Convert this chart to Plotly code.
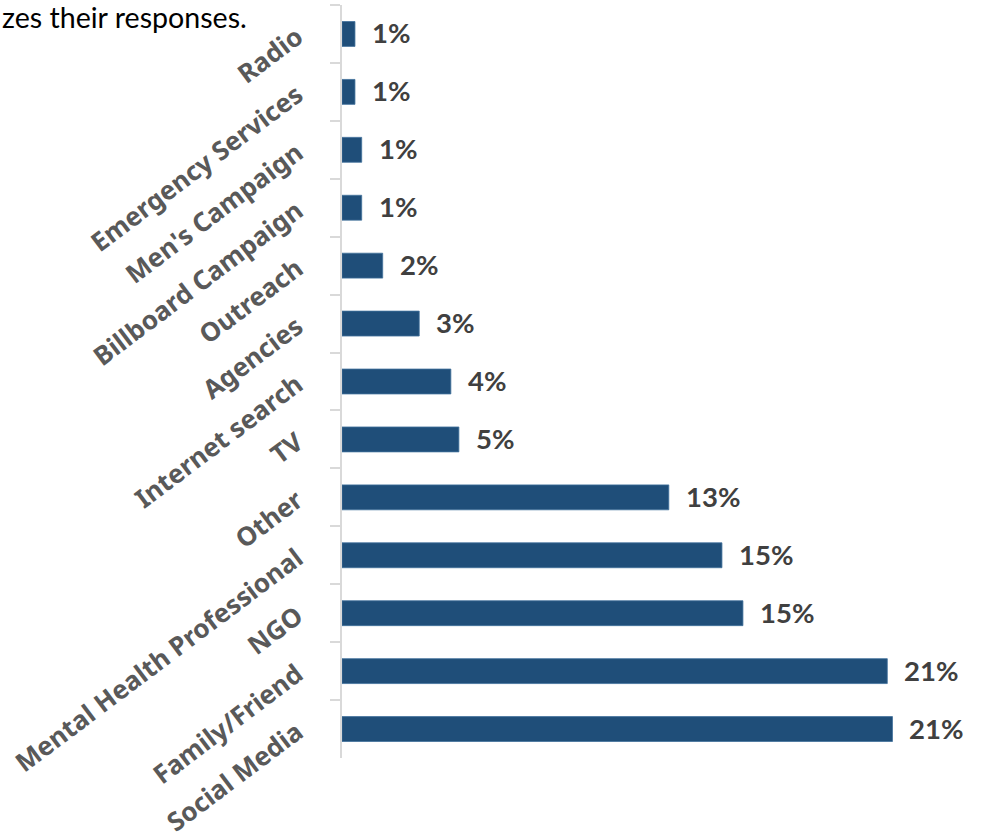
import plotly.graph_objects as go

# How respondents heard about the service (share of responses, %)
categories = [
    "Radio", "Emergency Services", "Men's Campaign", "Billboard Campaign",
    "Outreach", "Agencies", "Internet search", "TV", "Other",
    "Mental Health Professional", "NGO", "Family/Friend", "Social Media",
]
shares = [0.5, 0.5, 0.76, 0.76, 1.57, 2.98, 4.2, 4.51, 12.61, 14.66, 15.47, 21.04, 21.24]
# Percent labels, rounded half-up from the shares
share_labels = [f"{int(v + 0.5)}%" for v in shares]

BAR_COLOR = "#1f4e79"
AXIS_GRAY = "#d9d9d9"

fig = go.Figure()
fig.add_trace(go.Bar(
    y=categories,
    x=shares,
    orientation="h",
    marker=dict(color=BAR_COLOR, line=dict(color="#41719c", width=0.8)),
    hoverinfo="skip",
))

# Value labels to the right of each bar
for cat, val, lab in zip(categories, shares, share_labels):
    fig.add_annotation(
        x=val, y=cat, xref="x", yref="y",
        text=f"<b>{lab}</b>", showarrow=False,
        xanchor="left", yanchor="middle", xshift=15, yshift=1,
        font=dict(family="Lato", size=27.5, color="#404040"),
    )

# Tail of the introductory sentence above the chart
fig.add_annotation(
    x=0, y=1, xref="paper", yref="paper", xanchor="left", yanchor="top",
    xshift=-342, yshift=7,
    text="zes their responses.", showarrow=False,
    font=dict(family="Lato", size=28.6, color="#000000"),
)

fig.update_layout(
    width=981, height=839,
    margin=dict(l=342, r=17, t=5, b=81),
    paper_bgcolor="white", plot_bgcolor="white",
    showlegend=False,
    bargap=0.57,
    xaxis=dict(
        range=[0, 24], visible=False, showgrid=False, zeroline=False, fixedrange=True,
    ),
    yaxis=dict(
        categoryorder="array", categoryarray=categories, autorange="reversed",
        showline=True, linecolor=AXIS_GRAY, linewidth=1.5,
        ticks="outside", tickson="boundaries", ticklen=10, tickcolor=AXIS_GRAY, tickwidth=1.5,
        tickangle=-37, ticklabelstandoff=38,
        tickfont=dict(family="Noto Sans", size=26, color="#595959", weight=700),
        showgrid=False, automargin=False, fixedrange=True,
    ),
)

fig.write_html("out.html")
